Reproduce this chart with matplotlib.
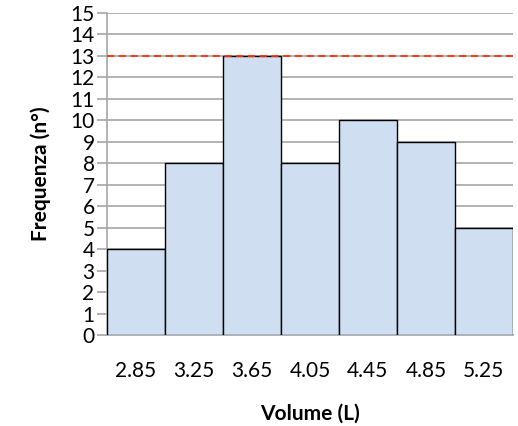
import matplotlib.pyplot as plt
import numpy as np

# Histogram data
volumes = ["2.85", "3.25", "3.65", "4.05", "4.45", "4.85", "5.25"]
counts = [4, 8, 13, 8, 10, 9, 5]
max_line = 13

plt.rcParams['font.family'] = ['Lato', 'DejaVu Sans']

fig = plt.figure(figsize=(5.18, 4.26), dpi=100)
ax = fig.add_axes([0.2066, 0.2136, 0.7834, 0.7559])

x = np.arange(len(volumes))
ax.bar(x, counts, width=1.0, color='#cfdff1', edgecolor='black', linewidth=1, zorder=3)
ax.axhline(max_line, color='#ff3010', linestyle=(0, (4, 2.5)), linewidth=1.3, zorder=4)

ax.set_xlim(-0.5, len(volumes) - 0.5)
ax.set_ylim(0, 15)
ax.set_yticks(range(0, 16))
ax.set_xticks(x)
ax.set_xticklabels(volumes)
ax.grid(axis='y', color='#a6a6a6', linewidth=1.2, zorder=0)

for s in ['top', 'right']:
    ax.spines[s].set_visible(False)
ax.spines['left'].set_color('#a6a6a6')
ax.spines['left'].set_linewidth(1.2)
ax.spines['bottom'].set_color('#a6a6a6')
ax.spines['bottom'].set_linewidth(1.2)
ax.tick_params(axis='y', length=7, width=1.2, color='#a6a6a6', labelsize=15, pad=2)
ax.tick_params(axis='x', length=0, labelsize=15, pad=19)

ax.set_xlabel('Volume (L)', fontsize=15, fontweight='bold', labelpad=16)
ax.set_ylabel('Frequenza (n°)', fontsize=15, fontweight='bold', labelpad=14)

fig.savefig('out.png', dpi=100)
